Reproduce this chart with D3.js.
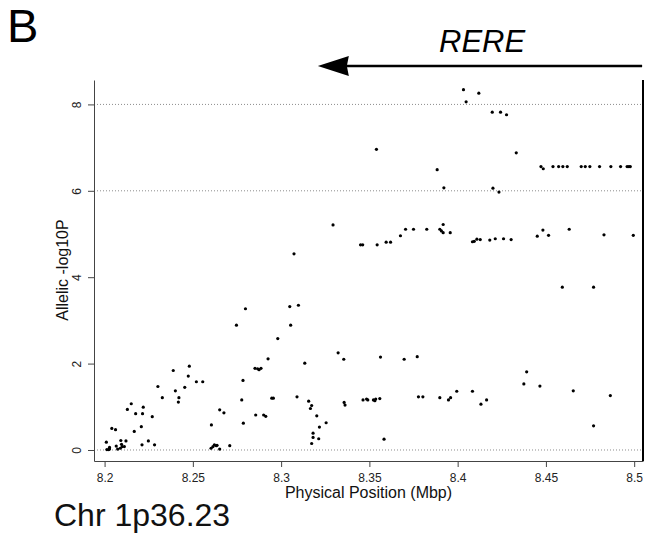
<!DOCTYPE html>
<html>
<head>
<meta charset="utf-8">
<script src="https://cdn.jsdelivr.net/npm/d3@7"></script>
<style>
  html, body { margin: 0; padding: 0; background: #fff; }
  svg { display: block; font-family: "Liberation Sans", Arial, Helvetica, sans-serif; }
</style>
</head>
<body>
<svg id="chart" width="649" height="537"></svg>
<script>
// SNP positions (Mbp) and allelic association, -log10(P)
const positions = [
  8.2010, 8.2013, 8.2023, 8.2028, 8.2028, 8.2041, 8.2062, 8.2066, 8.2074, 8.2089,
  8.2092, 8.2096, 8.2100, 8.2112, 8.2121, 8.2129, 8.2151, 8.2168, 8.2176, 8.2208,
  8.2212, 8.2215, 8.2219, 8.2248, 8.2270, 8.2283, 8.2302, 8.2327, 8.2389, 8.2401,
  8.2418, 8.2421, 8.2454, 8.2474, 8.2480, 8.2520, 8.2556, 8.2605, 8.2603, 8.2614,
  8.2622, 8.2633, 8.2637, 8.2652, 8.2652, 8.2676, 8.2709, 8.2747, 8.2777, 8.2784,
  8.2786, 8.2798, 8.2852, 8.2856, 8.2867, 8.2875, 8.2886, 8.2901, 8.2913, 8.2926,
  8.2947, 8.2956, 8.2981, 8.3049, 8.3054, 8.3073, 8.3090, 8.3098, 8.3134, 8.3156,
  8.3166, 8.3173, 8.3173, 8.3181, 8.3181, 8.3202, 8.3213, 8.3217, 8.3255, 8.3294,
  8.3323, 8.3355, 8.3357, 8.3362, 8.3450, 8.3462, 8.3464, 8.3484, 8.3491, 8.3523,
  8.3531, 8.3536, 8.3540, 8.3544, 8.3559, 8.3563, 8.3583, 8.3595, 8.3620, 8.3676,
  8.3697, 8.3705, 8.3750, 8.3771, 8.3778, 8.3803, 8.3825, 8.3884, 8.3899, 8.3899,
  8.3908, 8.3918, 8.3918, 8.3922, 8.3948, 8.3958, 8.3960, 8.3995, 8.4033, 8.4048,
  8.4084, 8.4084, 8.4094, 8.4109, 8.4120, 8.4128, 8.4132, 8.4164, 8.4182, 8.4196,
  8.4200, 8.4213, 8.4234, 8.4243, 8.4260, 8.4277, 8.4303, 8.4332, 8.4375, 8.4391,
  8.4451, 8.4466, 8.4472, 8.4483, 8.4485, 8.4515, 8.4540, 8.4572, 8.4593, 8.4596,
  8.4621, 8.4632, 8.4655, 8.4700, 8.4723, 8.4749, 8.4770, 8.4770, 8.4804, 8.4829,
  8.4865, 8.4868, 8.4923, 8.4960, 8.4970, 8.4978, 8.4995
];
const logP = [
  0.18, 0.01, 0.01, 0.06, 0.02, 0.50, 0.47, 0.09, 0.02, 0.04,
  0.22, 0.13, 0.08, 0.08, 0.21, 0.94, 1.07, 0.43, 0.84, 0.54,
  0.12, 0.84, 0.99, 0.21, 0.77, 0.12, 1.47, 1.21, 1.84, 1.37,
  1.11, 1.21, 1.45, 1.71, 1.94, 1.58, 1.58, 0.58, 0.04, 0.08,
  0.12, 0.10, 0.11, 0.02, 0.93, 0.86, 0.10, 2.89, 1.16, 1.61,
  0.62, 3.27, 1.89, 0.81, 1.88, 1.86, 1.89, 0.81, 0.78, 2.11,
  1.20, 1.20, 2.58, 3.32, 2.89, 4.54, 1.23, 3.35, 2.01, 1.13,
  0.96, 1.03, 0.15, 0.39, 0.29, 0.79, 0.26, 0.53, 0.63, 5.21,
  2.25, 2.10, 1.10, 1.04, 4.75, 4.75, 1.16, 1.18, 1.16, 1.16,
  1.14, 1.18, 6.96, 4.75, 1.19, 2.15, 0.25, 4.81, 4.81, 4.96,
  2.10, 5.11, 5.11, 2.16, 1.23, 1.23, 5.11, 6.49, 5.11, 1.21,
  5.07, 5.22, 5.03, 6.07, 1.16, 5.03, 1.21, 1.36, 8.34, 8.06,
  4.82, 1.36, 4.83, 4.88, 8.26, 4.87, 1.06, 1.16, 4.86, 7.82,
  6.06, 4.89, 5.97, 7.82, 4.89, 7.76, 4.87, 6.88, 1.53, 1.81,
  4.95, 1.48, 6.56, 5.09, 6.51, 4.97, 6.56, 6.56, 3.77, 6.56,
  6.56, 5.11, 1.37, 6.56, 6.56, 6.56, 3.77, 0.56, 6.56, 4.98,
  1.26, 6.56, 6.56, 6.56, 6.56, 6.56, 4.97
];

// Axis ticks and reference lines
const xTicks = [8.2, 8.25, 8.3, 8.35, 8.4, 8.45, 8.5];
const xTickLabels = ["8.2", "8.25", "8.3", "8.35", "8.4", "8.45", "8.5"];
const yTicks = [0, 2, 4, 6, 8];
const yRefLines = [0, 6, 8];

// Gene annotation: RERE, transcribed towards lower coordinates
const geneName = ["RERE"];
const geneSpan = [8.3208, 8.5045]; // [arrow tip, right end]

const panelLabel = "B";
const regionLabel = "Chr 1p36.23";

const svg = d3.select("#chart");

const x = d3.scaleLinear().domain([8.194, 8.505]).range([94, 643]);
const y = d3.scaleLinear().domain([-0.255, 8.565]).range([461, 80]);

// dotted reference lines
svg.append("g").selectAll("line").data(yRefLines).join("line")
  .attr("x1", x.range()[0]).attr("x2", x.range()[1])
  .attr("y1", d => y(d)).attr("y2", d => y(d))
  .attr("stroke", "#8c8c8c").attr("stroke-width", 1)
  .attr("stroke-dasharray", "1,2");

// bottom axis
const xAxis = svg.append("g")
  .attr("transform", `translate(0,${y.range()[0]})`)
  .call(d3.axisBottom(x).tickValues(xTicks).tickSize(6).tickSizeOuter(0)
        .tickFormat((d, i) => xTickLabels[i]));
xAxis.select(".domain").attr("stroke", "#444");
xAxis.selectAll(".tick line").attr("stroke", "#444");
xAxis.selectAll(".tick text")
  .attr("font-family", "Liberation Sans, Arial, sans-serif")
  .attr("font-size", 12).attr("fill", "#222")
  .attr("y", 21).attr("dy", 0);

// left axis with rotated labels
const yAxis = svg.append("g")
  .attr("transform", `translate(${x.range()[0]},0)`)
  .call(d3.axisLeft(y).tickValues(yTicks).tickSize(6).tickSizeOuter(0)
        .tickFormat(d3.format("d")));
yAxis.select(".domain").attr("stroke", "#444");
yAxis.selectAll(".tick line").attr("stroke", "#444");
yAxis.selectAll(".tick text")
  .attr("font-family", "Liberation Sans, Arial, sans-serif")
  .attr("font-size", 12).attr("fill", "#222")
  .attr("x", 0).attr("dy", 0)
  .attr("text-anchor", "middle")
  .attr("transform", "translate(-13,0) rotate(-90)");

// right border
svg.append("line")
  .attr("x1", x.range()[1]).attr("x2", x.range()[1])
  .attr("y1", y.range()[1]).attr("y2", y.range()[0])
  .attr("stroke", "#000").attr("stroke-width", 2);

// axis titles
svg.append("text")
  .attr("x", (x.range()[0] + x.range()[1]) / 2).attr("y", 498)
  .attr("text-anchor", "middle").attr("font-size", 16).attr("fill", "#111")
  .text("Physical Position (Mbp)");

svg.append("text")
  .attr("transform", `translate(68,270) rotate(-90)`)
  .attr("text-anchor", "middle").attr("font-size", 16).attr("fill", "#111")
  .text("Allelic -log10P");

// SNP points
svg.append("g").selectAll("circle").data(positions).join("circle")
  .attr("cx", d => x(d))
  .attr("cy", (d, i) => y(logP[i]))
  .attr("r", 1.6)
  .attr("fill", "#000");

// gene arrow
const arrowY = 66;
const tipX = x(geneSpan[0]);
const endX = x(geneSpan[1]);
svg.append("line")
  .attr("x1", tipX + 28).attr("x2", endX)
  .attr("y1", arrowY).attr("y2", arrowY)
  .attr("stroke", "#000").attr("stroke-width", 2.5);
svg.append("path")
  .attr("d", `M${tipX},${arrowY} L${tipX + 31},${arrowY - 10} L${tipX + 29},${arrowY} L${tipX + 31},${arrowY + 10} Z`)
  .attr("fill", "#000");
svg.append("text")
  .attr("x", 439).attr("y", 52)
  .attr("font-size", 31).attr("font-style", "italic").attr("fill", "#000")
  .text(geneName[0]);

// panel and region labels
svg.append("text")
  .attr("x", 7).attr("y", 42)
  .attr("font-size", 47).attr("fill", "#000")
  .text(panelLabel);
svg.append("text")
  .attr("x", 54).attr("y", 526)
  .attr("font-size", 32).attr("fill", "#111")
  .text(regionLabel);
</script>
</body>
</html>
